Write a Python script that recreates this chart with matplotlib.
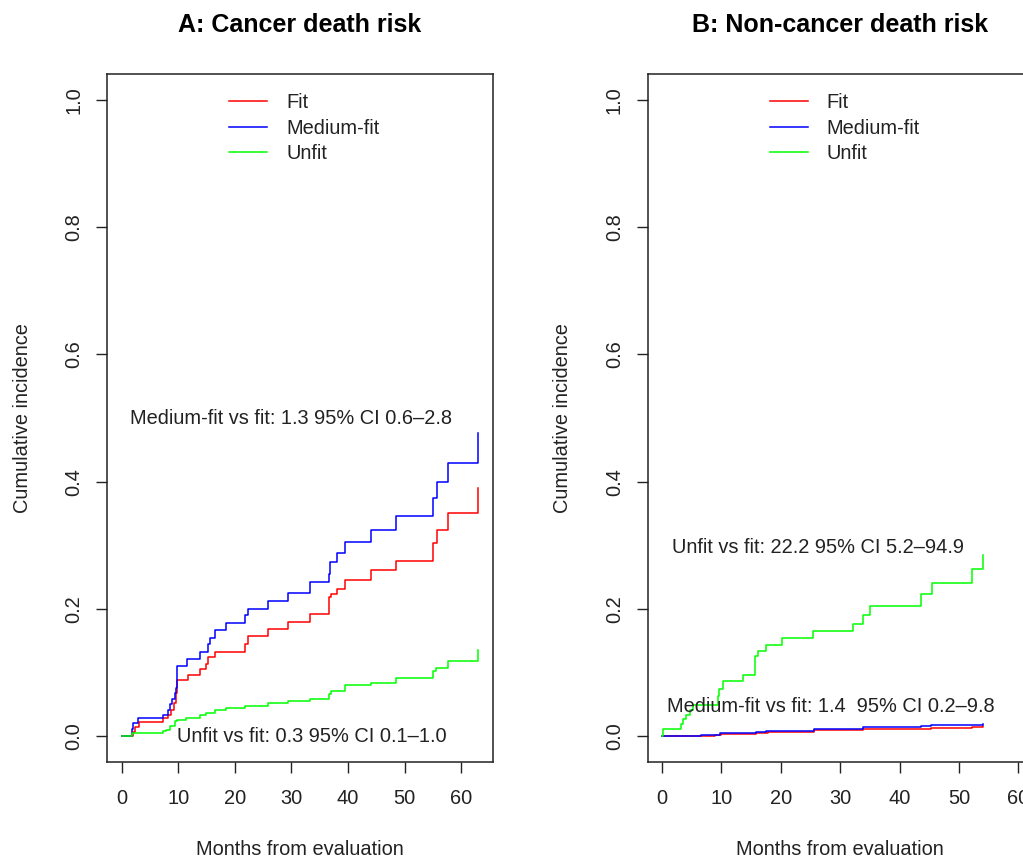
"""Incidência cumulativa de óbito por grupo de aptidão (painéis A e B)."""
import matplotlib
matplotlib.use("Agg")
import matplotlib.pyplot as plt

plt.rcParams["font.family"] = ["Liberation Sans", "DejaVu Sans"]

GRUPOS = ["Fit", "Medium-fit", "Unfit"]
CORES = ["#FF0000", "#0000FF", "#00FF00"]

# --- painel A: óbito por câncer (meses, incidência cumulativa) ---
a_fit_t = [0, 2.05, 2.35, 3.1, 7.34, 8.22, 8.8, 9.2, 9.58, 9.81, 11.76, 13.81,
           14.99, 15.28, 16.45, 21.75, 22.33, 25.86, 29.38, 33.2, 36.7, 37.0,
           38.0, 39.5, 44.1, 48.4, 54.96, 55.8, 57.6, 62.9]
a_fit_v = [0, 0.006, 0.015, 0.022, 0.029, 0.034, 0.042, 0.052, 0.068, 0.089,
           0.097, 0.105, 0.114, 0.124, 0.132, 0.145, 0.158, 0.168, 0.179,
           0.192, 0.218, 0.224, 0.232, 0.245, 0.261, 0.276, 0.303, 0.324,
           0.350, 0.390]
a_med_t = [0, 1.76, 2.05, 2.93, 7.34, 8.22, 8.64, 8.99, 9.40, 9.58, 9.81,
           11.64, 13.81, 15.28, 15.57, 16.45, 18.5, 21.75, 22.33, 25.86, 29.38,
           33.2, 36.7, 36.86, 38.0, 39.5, 44.1, 48.4, 54.96, 55.8, 57.6, 62.9]
a_med_v = [0, 0.012, 0.021, 0.029, 0.034, 0.042, 0.050, 0.058, 0.068, 0.076,
           0.111, 0.122, 0.132, 0.145, 0.155, 0.167, 0.178, 0.190, 0.200,
           0.213, 0.225, 0.242, 0.255, 0.274, 0.288, 0.305, 0.324, 0.346,
           0.374, 0.400, 0.429, 0.477]
a_unf_t = [0, 1.76, 7.34, 7.9, 8.5, 9.4, 9.81, 11.4, 13.81, 14.99, 16.45,
           18.5, 21.75, 25.86, 29.38, 33.2, 36.7, 37.0, 39.5, 44.1, 48.4,
           54.96, 55.5, 57.6, 62.9]
a_unf_v = [0, 0.005, 0.008, 0.0105, 0.016, 0.024, 0.026, 0.029, 0.034, 0.037,
           0.041, 0.044, 0.047, 0.053, 0.055, 0.058, 0.066, 0.071, 0.081,
           0.084, 0.092, 0.103, 0.108, 0.118, 0.135]

# --- painel B: óbito por outras causas ---
b_fit_t = [0, 3.58, 8.89, 10.0, 15.88, 17.84, 25.67, 33.78, 45.25, 52.24, 54.03]
b_fit_v = [0, 0.0005, 0.0026, 0.0042, 0.0053, 0.0074, 0.0095, 0.011, 0.013,
           0.0147, 0.0158]
b_med_t = [0, 3.02, 6.65, 9.73, 15.88, 17.56, 25.67, 33.78, 43.57, 45.25, 54.03]
b_med_v = [0, 0.001, 0.0026, 0.0047, 0.0068, 0.0089, 0.012, 0.014, 0.016,
           0.018, 0.020]
b_unf_t = [0, 0.22, 3.3, 3.6, 4.1, 4.7, 5.3, 9.5, 9.7, 10.3, 13.6, 15.6,
           16.17, 17.56, 20.24, 25.39, 32.1, 33.78, 35.07, 43.57, 45.41,
           52.23, 54.08]
b_unf_v = [0, 0.0115, 0.019, 0.027, 0.034, 0.042, 0.049, 0.063, 0.074, 0.087,
           0.097, 0.126, 0.134, 0.144, 0.154, 0.165, 0.176, 0.191, 0.205,
           0.224, 0.240, 0.263, 0.285]

X_TICKS = [0, 10, 20, 30, 40, 50, 60]
Y_TICKS = [0.0, 0.2, 0.4, 0.6, 0.8, 1.0]

FS = 14.4
W, H = 1023, 860


def painel(ax, titulo, curvas, xlim, notas):
    for (t, v), nome, cor in zip(curvas, GRUPOS, CORES):
        ax.step(t, v, where="post", color=cor, lw=1.1, label=nome)
    ax.set_xlim(*xlim)
    ax.set_ylim(-0.04, 1.04)
    ax.set_xticks(X_TICKS)
    ax.set_yticks(Y_TICKS)
    ax.set_yticklabels([f"{y:.1f}" for y in Y_TICKS], rotation=90, va="center")
    ax.tick_params(labelsize=FS, length=8, width=1.0, color="#222",
                   labelcolor="#222")
    ax.tick_params(axis="x", pad=11.5)
    ax.tick_params(axis="y", pad=9)
    for s in ax.spines.values():
        s.set_linewidth(1.1)
        s.set_color("#222")
    for x, y, txt in notas:
        ax.text(x, y, txt, ha="center", va="center", fontsize=FS, color="#222")
    ax.text(0.5, 1.0717, titulo, transform=ax.transAxes, ha="center",
            va="center", fontsize=18, fontweight="bold")
    ax.text(0.5, -0.128, "Months from evaluation", transform=ax.transAxes,
            ha="center", va="center", fontsize=FS, color="#222")
    ax.text(-0.2214, 0.5, "Cumulative incidence", transform=ax.transAxes,
            ha="center", va="center", rotation=90, fontsize=FS, color="#222")
    leg = ax.legend(loc="upper center", bbox_to_anchor=(0.512, 0.9725),
                    frameon=False, fontsize=FS, borderpad=0, borderaxespad=0,
                    handlelength=1.9, handletextpad=0.95, labelspacing=0.33)
    for t in leg.get_texts():
        t.set_color("#222")


fig = plt.figure(figsize=(W / 100, H / 100), dpi=100)
larg = 385.2 / W
alt = 687.4 / H
base = 98.3 / H
ax_a = fig.add_axes([107.3 / W, base, larg, alt])
ax_b = fig.add_axes([647.5 / W, base, larg, alt])

painel(ax_a, "A: Cancer death risk",
       [(a_fit_t, a_fit_v), (a_med_t, a_med_v), (a_unf_t, a_unf_v)],
       (-2.52, 65.52),
       [(30, 0.5, "Medium-fit vs fit: 1.3 95% CI 0.6\u20132.8"),
        (33.6, 0.0, "Unfit vs fit: 0.3 95% CI 0.1\u20131.0")])
painel(ax_b, "B: Non-cancer death risk",
       [(b_fit_t, b_fit_v), (b_med_t, b_med_v), (b_unf_t, b_unf_v)],
       (-2.4, 62.4),
       [(26.3, 0.297, "Unfit vs fit: 22.2 95% CI 5.2\u201394.9"),
        (28.5, 0.047, "Medium-fit vs fit: 1.4  95% CI 0.2\u20139.8")])

fig.savefig("out.png", dpi=100)
